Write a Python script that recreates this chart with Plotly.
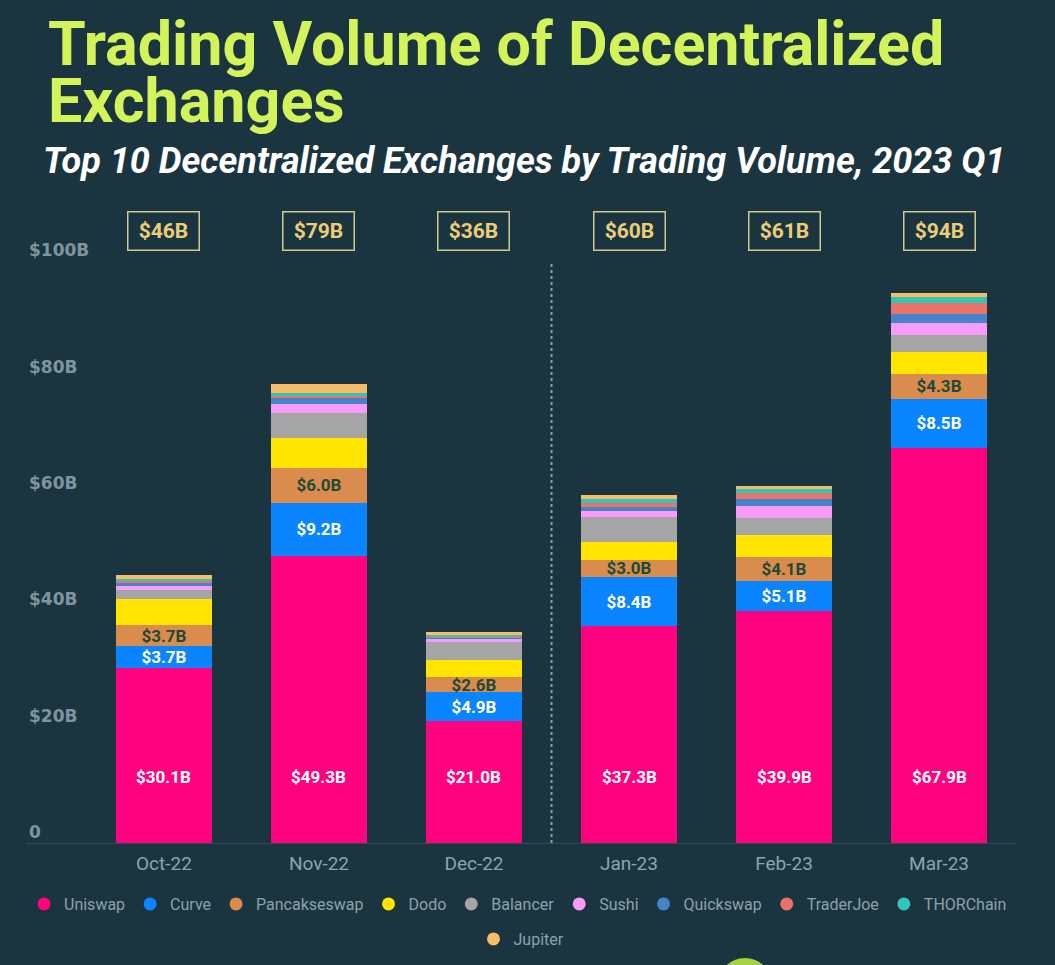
import plotly.graph_objects as go

months = ["Oct-22", "Nov-22", "Dec-22", "Jan-23", "Feb-23", "Mar-23"]
uniswap = [30.1, 49.3, 21.0, 37.3, 39.9, 67.9]
curve = [3.7, 9.2, 4.9, 8.4, 5.1, 8.5]
pancakeswap = [3.7, 6.0, 2.6, 3.0, 4.1, 4.3]
dodo = [4.4, 5.2, 3.0, 3.1, 3.8, 3.7]
balancer = [1.6, 4.2, 3.0, 4.2, 2.9, 3.0]
sushi = [0.7, 1.6, 0.6, 1.1, 2.2, 2.0]
quickswap = [0.6, 1.1, 0.2, 0.7, 1.1, 1.5]
traderjoe = [0.2, 0.2, 0.1, 0.7, 1.1, 2.0]
thorchain = [0.4, 0.5, 0.5, 0.6, 0.7, 1.0]
jupiter = [0.7, 1.6, 0.3, 0.7, 0.5, 0.6]
totals = [46, 79, 36, 60, 61, 94]
ytick_vals = [0, 20, 40, 60, 80, 100]
ytick_text = ["0", "$20B", "$40B", "$60B", "$80B", "$100B"]

series = [
    ("Uniswap", uniswap, "#fe027f"),
    ("Curve", curve, "#0b84ff"),
    ("Pancakseswap", pancakeswap, "#d98c4d"),
    ("Dodo", dodo, "#ffe500"),
    ("Balancer", balancer, "#a5a5a5"),
    ("Sushi", sushi, "#f99cf9"),
    ("Quickswap", quickswap, "#4683c9"),
    ("TraderJoe", traderjoe, "#e8736a"),
    ("THORChain", thorchain, "#34c6b4"),
    ("Jupiter", jupiter, "#f7bb69"),
]

BG = "#1b3540"
W, H = 1055, 965
Y_MAX = 104
ML, MR, MT, MB = 26, 38, 238, 122
PW = W - ML - MR
PH = H - MT - MB


def px_x(p):
    return (p - ML) / PW


def px_y(p):
    return (H - MB - p) / PH


fig = go.Figure()
for name, vals, color in series:
    kw = {}
    if name == "Curve":
        kw = dict(texttemplate="$%{y:.1f}B", textposition="inside",
                  insidetextanchor="middle",
                  textfont=dict(family="Roboto", size=17, color="#ffffff", weight="bold"))
    elif name == "Pancakseswap":
        kw = dict(texttemplate="$%{y:.1f}B", textposition="inside",
                  insidetextanchor="middle",
                  textfont=dict(family="Roboto", size=17, color="#1f4a36", weight="bold"))
    fig.add_trace(go.Bar(
        x=months, y=vals, name=name, marker=dict(color=color, line=dict(width=0)),
        showlegend=False, constraintext="none", textangle=0, cliponaxis=False, **kw))

for i, (name, vals, color) in enumerate(series):
    fig.add_trace(go.Scatter(
        x=[None], y=[None], mode="markers", name=name,
        legend="legend2" if name == "Jupiter" else "legend",
        marker=dict(symbol="circle", size=13, color=color), showlegend=True))

annotations = []
label_y = 11.3
for m, v in zip(months, uniswap):
    annotations.append(dict(x=m, y=label_y, xref="x", yref="y", text=f"${v:.1f}B",
                            showarrow=False,
                            font=dict(family="Roboto", size=17, color="#ffffff", weight="bold")))
for m, t in zip(months, totals):
    annotations.append(dict(x=m, y=px_y(231), xref="x", yref="paper", yanchor="middle",
                            text=f"${t}B",
                            showarrow=False, width=66, height=33, borderpad=2,
                            bordercolor="#cfc98e", borderwidth=1.5,
                            font=dict(family="Roboto", size=21, color="#eacd78", weight="bold")))

annotations.append(dict(x=px_x(46), y=px_y(44), xref="paper", yref="paper", xanchor="left",
                        yanchor="middle", showarrow=False,
                        text="Trading Volume of Decentralized",
                        font=dict(family="Roboto", size=61, color="#d3f35b", weight="bold")))
annotations.append(dict(x=px_x(46), y=px_y(101), xref="paper", yref="paper", xanchor="left",
                        yanchor="middle", showarrow=False,
                        text="Exchanges",
                        font=dict(family="Roboto", size=61, color="#d3f35b", weight="bold")))
annotations.append(dict(x=px_x(41), y=px_y(161), xref="paper", yref="paper", xanchor="left",
                        yanchor="middle", showarrow=False,
                        text="<i>Top 10 Decentralized Exchanges by Trading Volume, 2023 Q1</i>",
                        font=dict(family="Roboto", size=36, color="#ffffff", weight="bold")))

legend_font = dict(family="Roboto", size=16, color="#8fa0a8")
fig.update_layout(
    width=W, height=H,
    margin=dict(l=ML, r=MR, t=MT, b=MB, autoexpand=False),
    paper_bgcolor=BG, plot_bgcolor=BG,
    barmode="stack", bargap=0.38,
    annotations=annotations,
    shapes=[
        dict(type="line", xref="x", yref="y", x0=2.5, x1=2.5, y0=0, y1=100,
             line=dict(color="#8c9ca3", width=2, dash="dot")),
        dict(type="circle", xref="paper", yref="paper", x0=px_x(718), x1=px_x(772),
             y0=px_y(1012), y1=px_y(958), fillcolor="#a6d141", line=dict(width=0)),
    ],
    xaxis=dict(type="category", range=[-0.89, 5.503], showgrid=False, zeroline=False,
               showline=True, linecolor="#2f4a55", linewidth=1, ticks="",
               ticklabelstandoff=3,
               tickfont=dict(family="Roboto", size=19, color="#8fa3ab")),
    yaxis=dict(range=[0, Y_MAX], showgrid=False, zeroline=False, showline=False,
               tickvals=ytick_vals, ticktext=ytick_text, ticklabelposition="inside",
               ticklabelshift=-11, ticks="",
               tickfont=dict(family="DejaVu Sans", size=17, color="#7f949d", weight="bold")),
    legend=dict(orientation="h", x=-0.002, xanchor="left", y=px_y(887), yanchor="top",
                font=legend_font, traceorder="normal",
                bgcolor="rgba(0,0,0,0)", itemclick=False),
    legend2=dict(orientation="h", x=0.5, xanchor="center", y=px_y(922), yanchor="top",
                 font=legend_font, traceorder="normal",
                 bgcolor="rgba(0,0,0,0)", itemclick=False),
    font=dict(family="Roboto"),
)

fig.write_html("out.html", config={"displayModeBar": False},
               post_script="document.body.style.margin='0';document.body.style.background='%s';" % BG)
